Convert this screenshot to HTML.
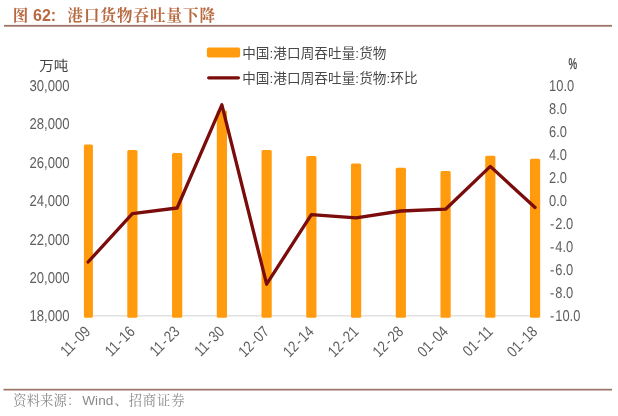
<!DOCTYPE html>
<html lang="zh-CN">
<head>
<meta charset="utf-8">
<title>图 62: 港口货物吞吐量下降</title>
<style>
html,body{margin:0;padding:0;background:#fff;}
body{width:618px;height:416px;overflow:hidden;position:relative;font-family:"Liberation Sans","Noto Sans CJK SC",sans-serif;}
svg{position:absolute;left:0;top:0;display:block;}
.ttl{font-family:"Liberation Sans","Noto Serif CJK SC",serif;font-size:16px;font-weight:bold;fill:#b7693f;}
.ttl .cn{font-size:15.5px;letter-spacing:1px;font-weight:700;}
.src{font-family:"Liberation Sans","Noto Serif CJK SC",serif;font-size:13.3px;fill:#8a8a8a;}
.src .cn{letter-spacing:0.1px;}
.src .en{font-size:13.6px;}
.ax{text-rendering:geometricPrecision;font-family:"Liberation Sans","Noto Sans CJK SC",sans-serif;font-size:15.6px;fill:#5e5e5e;}
.lg{font-family:"Liberation Sans","Noto Sans CJK SC",sans-serif;font-size:13.6px;letter-spacing:0.07px;fill:#484848;}
</style>
</head>
<body>
<svg width="618" height="416" viewBox="0 0 618 416">
<rect x="0" y="0" width="618" height="416" fill="#ffffff"/>
<g class="ttl"><text class="cn" x="12.8" y="20.8">图</text><text x="33" y="20.8">62:</text><text class="cn" x="67.6" y="20.8">港口货物吞吐量下降</text></g>
<rect x="4" y="24.9" width="608" height="1.8" fill="#9c7366"/>
<rect x="3.5" y="388.8" width="608.5" height="1.7" fill="#9c7366"/>
<text class="src" x="13.3" y="404.8"><tspan class="cn">资料来源：</tspan><tspan class="en" dx="2">Wind</tspan><tspan class="cn" style="letter-spacing:0.9px" dx="1.2">、招商证券</tspan></text>
<rect x="84.0" y="315.3" width="456.0" height="1.1" fill="#d6d6d6"/>
<g fill="#ff9b0c">
<rect x="83.90" y="144.6" width="9.0" height="173.1" rx="1.5"/>
<rect x="127.30" y="150.1" width="10.2" height="167.6" rx="1.5"/>
<rect x="172.04" y="153.1" width="10.2" height="164.6" rx="1.5"/>
<rect x="216.78" y="110.5" width="10.2" height="207.2" rx="1.5"/>
<rect x="261.52" y="150.1" width="10.2" height="167.6" rx="1.5"/>
<rect x="306.26" y="156.1" width="10.2" height="161.6" rx="1.5"/>
<rect x="351.00" y="163.4" width="10.2" height="154.3" rx="1.5"/>
<rect x="395.74" y="167.7" width="10.2" height="150.0" rx="1.5"/>
<rect x="440.48" y="170.9" width="10.2" height="146.8" rx="1.5"/>
<rect x="485.22" y="155.8" width="10.2" height="161.9" rx="1.5"/>
<rect x="529.96" y="158.8" width="10.2" height="158.9" rx="1.5"/>
</g>
<polyline fill="none" stroke="#7a0c0c" stroke-width="3.3" stroke-linejoin="round" stroke-linecap="round" points="88.10,262.0 132.40,213.7 177.14,208.0 221.88,104.8 266.62,284.2 311.36,214.6 356.10,217.8 400.84,211.0 445.58,209.2 490.32,166.4 535.06,207.5"/>
<g class="ax" text-anchor="end">
<text x="68.2" y="70.8" font-size="14.5" fill="#444">万吨</text>
<text transform="translate(69.5,90.9) scale(0.84,1)">30,000</text>
<text transform="translate(69.5,129.2) scale(0.84,1)">28,000</text>
<text transform="translate(69.5,167.6) scale(0.84,1)">26,000</text>
<text transform="translate(69.5,205.9) scale(0.84,1)">24,000</text>
<text transform="translate(69.5,244.6) scale(0.84,1)">22,000</text>
<text transform="translate(69.5,282.6) scale(0.84,1)">20,000</text>
<text transform="translate(69.5,320.9) scale(0.84,1)">18,000</text>
</g>
<g class="ax">
<text transform="translate(568.6,69.2) scale(0.62,1)" font-size="15.5" fill="#444" stroke="#444" stroke-width="0.35">%</text>
<text transform="translate(549.1,90.8) scale(0.825,1)">10.0</text>
<text transform="translate(549.1,113.8) scale(0.825,1)">8.0</text>
<text transform="translate(549.1,136.8) scale(0.825,1)">6.0</text>
<text transform="translate(549.1,159.8) scale(0.825,1)">4.0</text>
<text transform="translate(549.1,182.8) scale(0.825,1)">2.0</text>
<text transform="translate(549.1,205.8) scale(0.825,1)">0.0</text>
<text transform="translate(549.9,228.8) scale(0.825,1)">-<tspan dx="1.3">2.0</tspan></text>
<text transform="translate(549.9,251.8) scale(0.825,1)">-<tspan dx="1.3">4.0</tspan></text>
<text transform="translate(549.9,274.8) scale(0.825,1)">-<tspan dx="1.3">6.0</tspan></text>
<text transform="translate(549.9,297.8) scale(0.825,1)">-<tspan dx="1.3">8.0</tspan></text>
<text transform="translate(549.9,320.8) scale(0.825,1)">-<tspan dx="1.3">10.0</tspan></text>
</g>
<g class="ax" text-anchor="end">
<text transform="translate(91.30,332.6) rotate(-45) scale(0.83,1)">11<tspan dx="1.6">-</tspan><tspan dx="1.6">09</tspan></text>
<text transform="translate(135.80,332.6) rotate(-45) scale(0.83,1)">11<tspan dx="1.6">-</tspan><tspan dx="1.6">16</tspan></text>
<text transform="translate(180.54,332.6) rotate(-45) scale(0.83,1)">11<tspan dx="1.6">-</tspan><tspan dx="1.6">23</tspan></text>
<text transform="translate(225.28,332.6) rotate(-45) scale(0.83,1)">11<tspan dx="1.6">-</tspan><tspan dx="1.6">30</tspan></text>
<text transform="translate(270.02,332.6) rotate(-45) scale(0.83,1)">12<tspan dx="1.6">-</tspan><tspan dx="1.6">07</tspan></text>
<text transform="translate(314.76,332.6) rotate(-45) scale(0.83,1)">12<tspan dx="1.6">-</tspan><tspan dx="1.6">14</tspan></text>
<text transform="translate(359.50,332.6) rotate(-45) scale(0.83,1)">12<tspan dx="1.6">-</tspan><tspan dx="1.6">21</tspan></text>
<text transform="translate(404.24,332.6) rotate(-45) scale(0.83,1)">12<tspan dx="1.6">-</tspan><tspan dx="1.6">28</tspan></text>
<text transform="translate(448.98,332.6) rotate(-45) scale(0.83,1)">01<tspan dx="1.6">-</tspan><tspan dx="1.6">04</tspan></text>
<text transform="translate(493.72,332.6) rotate(-45) scale(0.83,1)">01<tspan dx="1.6">-</tspan><tspan dx="1.6">11</tspan></text>
<text transform="translate(538.46,332.6) rotate(-45) scale(0.83,1)">01<tspan dx="1.6">-</tspan><tspan dx="1.6">18</tspan></text>
</g>
<rect x="206.9" y="47.6" width="33.2" height="10" rx="2" fill="#ff9b0c"/>
<text class="lg" x="242.2" y="58">中国:港口周吞吐量:货物</text>
<line x1="208.7" y1="77.8" x2="238.4" y2="77.8" stroke="#7a0c0c" stroke-width="3.3" stroke-linecap="round"/>
<text class="lg" x="242.2" y="83">中国:港口周吞吐量:货物:环比</text>
</svg>
</body>
</html>
